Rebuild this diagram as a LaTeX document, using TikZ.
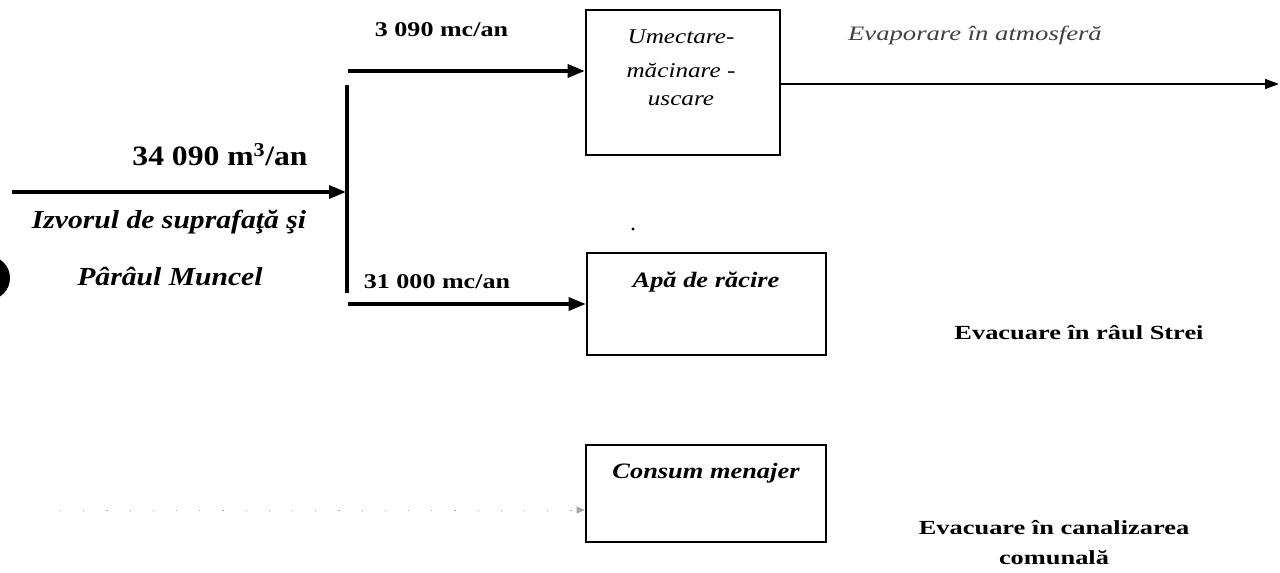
\documentclass[tikz,border=0pt]{standalone}
\usepackage{fontspec}
\setmainfont{Liberation Serif}
\newcommand\stf[1]{\fontspec{Liberation Serif}[FakeStretch=#1]}
\usetikzlibrary{arrows.meta}
\begin{document}
\begin{tikzpicture}[x=1pt,y=-1pt,
  line/.style={line width=3.2pt},
  arr/.style={line width=3.2pt,-{Triangle[length=17pt,width=13pt]}},
  thinarr/.style={line width=1.8pt,-{Triangle[length=14pt,width=10pt]}},
  box/.style={draw,line width=2.6pt,inner sep=0pt},
  lbl/.style={inner sep=0pt,font=\stf{1.24}\bfseries\fontsize{21}{24}\selectfont},
  boxit/.style={inner sep=0pt,font=\stf{1.2}\itshape\fontsize{21}{24}\selectfont},
  boxbit/.style={inner sep=0pt,font=\stf{1.2}\bfseries\itshape\fontsize{22}{25}\selectfont},
  src/.style={inner sep=0pt,font=\stf{1.14}\bfseries\itshape\fontsize{26}{30}\selectfont},
  outl/.style={inner sep=0pt,font=\stf{1.32}\bfseries\fontsize{20}{30}\selectfont,align=center}
]
\useasboundingbox (0,0) rectangle (1280,573);
\clip (0,0) rectangle (1280,573);
\fill[white] (0,0) rectangle (1280,573);

% boxes
\node[box,minimum width=194pt,minimum height=145pt] (b1) at (683,82.5) {};
\node[box,minimum width=239pt,minimum height=102pt] (b2) at (706.5,304) {};
\node[box,minimum width=240pt,minimum height=97pt] (b3) at (706,493.5) {};

% box texts
\node[boxit] (t1a) at (681,37) {Umectare-};
\node[boxit] (t1b) at (681,70) {măcinare -};
\node[boxit] (t1c) at (681,101) {uscare};
\node[boxbit] (t2) at (706,282) {Apă de răcire};
\node[boxbit] (t3) at (706,473) {Consum menajer};

% input
\coordinate (in) at (12,192);
\coordinate (jin) at (346,192);
\coordinate (vtop) at (347,85);
\coordinate (vbot) at (347,293);
\coordinate (tb) at (348,71);
\coordinate (bb) at (348,304);
\draw[arr] (in) -- (jin);
\draw[line] (vtop) -- (vbot);
\draw[arr] (tb) -- (tb -| b1.west);
\draw[arr] (bb) -- (b2.west);

% evaporation
\coordinate (evap) at (1279,84);
\draw[thinarr] (b1.east |- evap) -- (evap);
\node[inner sep=0pt,font=\stf{1.3}\itshape\fontsize{20.5}{24}\selectfont,text=black!75] (tev) at (975,35) {Evaporare în atmosferă};

% dotted faint input to Consum menajer
\coordinate (din) at (60,510);
\draw[black!35,line width=1pt,dash pattern=on 1.2pt off 22pt,-{Triangle[length=8pt,width=7pt]}] (din) -- (din -| b3.west);

% labels
\node[lbl] (l1) at (441.5,30) {3 090 mc/an};
\node[lbl] (l2) at (437,282) {31 000 mc/an};
\node[inner sep=0pt,font=\stf{1.13}\bfseries\fontsize{28}{32}\selectfont] (l0) at (220,155) {34 090 m\textsuperscript{3}/an};
\node[src] (s1) at (169,222) {Izvorul de suprafaţă şi};
\node[src] (s2) at (170,276) {Pârâul Muncel};

\node[outl] (o1) at (1079,333) {Evacuare în râul Strei};
\node[outl] (o2) at (1054,543) {Evacuare în canalizarea\\comunală};

% specks
\fill (633,229) circle (1.6pt);
\fill (-12,278) circle (22pt);
\end{tikzpicture}
\end{document}
